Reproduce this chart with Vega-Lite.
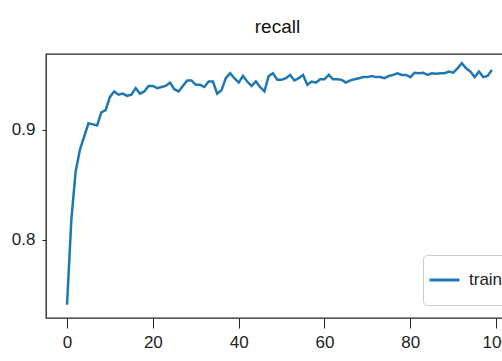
{
  "$schema": "https://vega.github.io/schema/vega-lite/v6.json",
  "width": 457,
  "height": 264,
  "autosize": {"type": "none"},
  "padding": {"left": 46, "top": 54, "right": 0, "bottom": 43},
  "background": "white",
  "config": {
    "font": "Liberation Sans",
    "view": {"stroke": "#222", "strokeWidth": 1.3},
    "axis": {"grid": false, "domain": false, "tickColor": "#222", "labelColor": "#222", "labelFontSize": 17, "labelFont": "Liberation Sans"}
  },
  "title": {"text": "recall", "fontSize": 19, "fontWeight": "normal", "color": "#111", "anchor": "middle", "offset": 17, "dx": 3, "font": "Liberation Sans"},
  "data": {
    "values": [
      {"epoch": 0, "recall": 0.741}, {"epoch": 1, "recall": 0.818}, {"epoch": 2, "recall": 0.862},
      {"epoch": 3, "recall": 0.882}, {"epoch": 4, "recall": 0.894}, {"epoch": 5, "recall": 0.906},
      {"epoch": 6, "recall": 0.905}, {"epoch": 7, "recall": 0.904}, {"epoch": 8, "recall": 0.916},
      {"epoch": 9, "recall": 0.918}, {"epoch": 10, "recall": 0.930}, {"epoch": 11, "recall": 0.935},
      {"epoch": 12, "recall": 0.932}, {"epoch": 13, "recall": 0.933}, {"epoch": 14, "recall": 0.931},
      {"epoch": 15, "recall": 0.932}, {"epoch": 16, "recall": 0.938}, {"epoch": 17, "recall": 0.933},
      {"epoch": 18, "recall": 0.935}, {"epoch": 19, "recall": 0.940}, {"epoch": 20, "recall": 0.940},
      {"epoch": 21, "recall": 0.938}, {"epoch": 22, "recall": 0.939}, {"epoch": 23, "recall": 0.940},
      {"epoch": 24, "recall": 0.943}, {"epoch": 25, "recall": 0.937}, {"epoch": 26, "recall": 0.935},
      {"epoch": 27, "recall": 0.940}, {"epoch": 28, "recall": 0.945}, {"epoch": 29, "recall": 0.945},
      {"epoch": 30, "recall": 0.941}, {"epoch": 31, "recall": 0.941}, {"epoch": 32, "recall": 0.939},
      {"epoch": 33, "recall": 0.944}, {"epoch": 34, "recall": 0.944}, {"epoch": 35, "recall": 0.933},
      {"epoch": 36, "recall": 0.936}, {"epoch": 37, "recall": 0.947}, {"epoch": 38, "recall": 0.9515},
      {"epoch": 39, "recall": 0.947}, {"epoch": 40, "recall": 0.943}, {"epoch": 41, "recall": 0.949},
      {"epoch": 42, "recall": 0.944}, {"epoch": 43, "recall": 0.940}, {"epoch": 44, "recall": 0.944},
      {"epoch": 45, "recall": 0.939}, {"epoch": 46, "recall": 0.935}, {"epoch": 47, "recall": 0.949},
      {"epoch": 48, "recall": 0.9515}, {"epoch": 49, "recall": 0.9455}, {"epoch": 50, "recall": 0.9455},
      {"epoch": 51, "recall": 0.947}, {"epoch": 52, "recall": 0.950}, {"epoch": 53, "recall": 0.945},
      {"epoch": 54, "recall": 0.947}, {"epoch": 55, "recall": 0.950}, {"epoch": 56, "recall": 0.941},
      {"epoch": 57, "recall": 0.944}, {"epoch": 58, "recall": 0.943}, {"epoch": 59, "recall": 0.946},
      {"epoch": 60, "recall": 0.946}, {"epoch": 61, "recall": 0.950}, {"epoch": 62, "recall": 0.946},
      {"epoch": 63, "recall": 0.946}, {"epoch": 64, "recall": 0.9455}, {"epoch": 65, "recall": 0.943},
      {"epoch": 66, "recall": 0.945}, {"epoch": 67, "recall": 0.946}, {"epoch": 68, "recall": 0.947},
      {"epoch": 69, "recall": 0.948}, {"epoch": 70, "recall": 0.948}, {"epoch": 71, "recall": 0.949},
      {"epoch": 72, "recall": 0.948}, {"epoch": 73, "recall": 0.948}, {"epoch": 74, "recall": 0.947},
      {"epoch": 75, "recall": 0.949}, {"epoch": 76, "recall": 0.950}, {"epoch": 77, "recall": 0.9515},
      {"epoch": 78, "recall": 0.950}, {"epoch": 79, "recall": 0.950}, {"epoch": 80, "recall": 0.948},
      {"epoch": 81, "recall": 0.952}, {"epoch": 82, "recall": 0.9515}, {"epoch": 83, "recall": 0.952},
      {"epoch": 84, "recall": 0.950}, {"epoch": 85, "recall": 0.9515}, {"epoch": 86, "recall": 0.951},
      {"epoch": 87, "recall": 0.9515}, {"epoch": 88, "recall": 0.9515}, {"epoch": 89, "recall": 0.953},
      {"epoch": 90, "recall": 0.952}, {"epoch": 91, "recall": 0.956}, {"epoch": 92, "recall": 0.9606},
      {"epoch": 93, "recall": 0.956}, {"epoch": 94, "recall": 0.953}, {"epoch": 95, "recall": 0.948},
      {"epoch": 96, "recall": 0.953}, {"epoch": 97, "recall": 0.948}, {"epoch": 98, "recall": 0.949},
      {"epoch": 99, "recall": 0.9545}
    ]
  },
  "transform": [{"calculate": "'train'", "as": "series"}],
  "mark": {"type": "line", "strokeWidth": 2.5, "clip": true},
  "encoding": {
    "x": {
      "field": "epoch", "type": "quantitative",
      "scale": {"domain": [-4.9, 101.6], "nice": false, "zero": false},
      "axis": {"title": null, "values": [0, 20, 40, 60, 80, 100], "tickSize": 10, "labelPadding": 6, "format": "d"}
    },
    "y": {
      "field": "recall", "type": "quantitative",
      "scale": {"domain": [0.729, 0.969], "nice": false, "zero": false},
      "axis": {"title": null, "values": [0.8, 0.9], "tickSize": 4, "labelPadding": 7, "format": ".1f"}
    },
    "color": {
      "field": "series", "type": "nominal",
      "scale": {"range": ["#1f77b4"]},
      "legend": {
        "title": null, "orient": "none", "legendX": 377, "legendY": 201,
        "symbolType": "stroke", "symbolSize": 900, "symbolStrokeWidth": 3,
        "labelFontSize": 17, "labelColor": "#222", "labelOffset": 8,
        "padding": 5, "clipHeight": 40,
        "strokeColor": "#cccccc", "fillColor": "white", "cornerRadius": 4
      }
    }
  }
}
